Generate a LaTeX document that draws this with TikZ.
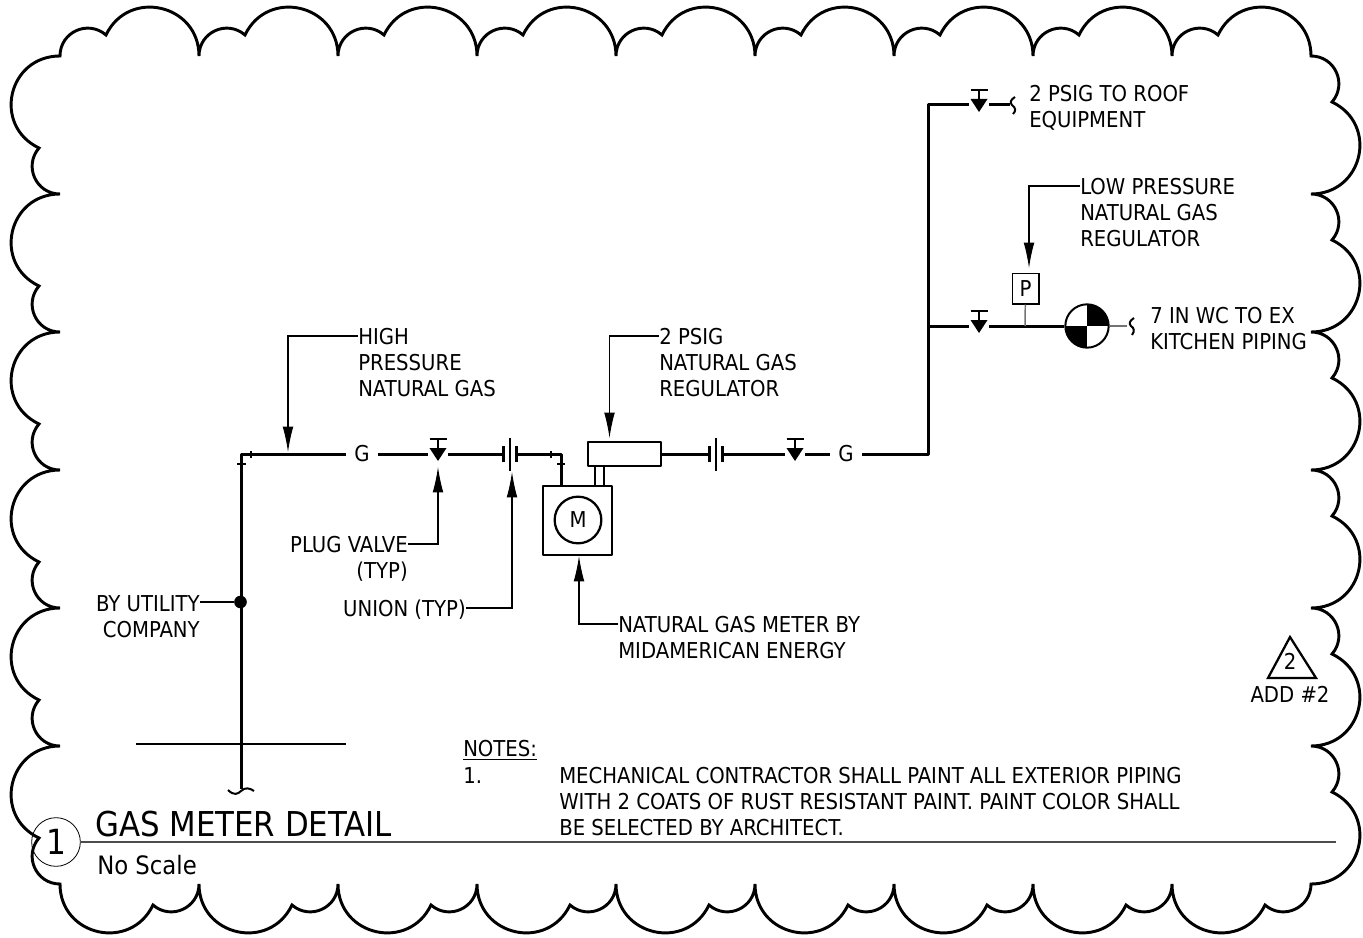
\documentclass[tikz,border=0pt]{standalone}
\usepackage{fontspec}
\setmainfont{DejaVu Sans Condensed}
\usetikzlibrary{arrows.meta}
\begin{document}
\begin{tikzpicture}[x=0.75pt, y=-0.75pt]
	\tikzset{nuage/.style={line width=2.2pt, line join=miter},
		tuyau/.style={line width=2.25pt, line join=round},
		fin/.style={line width=0.8pt},
		gris/.style={line width=1.1pt, black!55},
		fleche/.style={line width=0.8pt, -{Latex[length=19pt, width=8pt]}},
		lettre/.style={inner sep=0pt, font=\fontsize{16.4}{19.5}\selectfont},
		texte/.style={lettre, align=left, anchor=west},
		droite/.style={lettre, align=right, anchor=east},
		vanne/.style={inner sep=0pt, minimum width=15pt, minimum height=15pt},
		raccord/.style={inner sep=0pt, minimum width=9.8pt, minimum height=12pt},
		boite/.style={draw, line width=1.9pt, inner sep=0pt, line join=round}};
	\useasboundingbox (0,0) rectangle (1363,938);

	% cloud
	\draw[nuage] (60,56)
		\foreach \xa in {60,199,...,1172} { .. controls (\xa,32) and (\xa+28,19.4) .. (\xa+46,35) .. controls (\xa+68.5,-12) and (\xa+139,4) .. (\xa+139,56)}
		\foreach \ya in {56,194,...,746} { .. controls (1335,\ya) and (1347.6,\ya+28) .. (1332,\ya+46) .. controls (1379,\ya+68.5) and (1363,\ya+138) .. (1311,\ya+138)}
		\foreach \xa in {1311,1172,...,199} { .. controls (\xa,908) and (\xa-28,920.6) .. (\xa-46,905) .. controls (\xa-68.5,952) and (\xa-139,936) .. (\xa-139,884)}
		\foreach \ya in {884,746,...,194} { .. controls (36,\ya) and (23.4,\ya-28) .. (39,\ya-46) .. controls (-8,\ya-68.5) and (8,\ya-138) .. (60,\ya-138)}
		-- cycle;

	% pipe nodes
	\node[lettre, minimum width=24pt, minimum height=12pt] (ga) at (362,454) {G};
	\node[lettre, minimum width=24pt, minimum height=12pt] (gb) at (846,454) {G};
	\node[vanne] (va) at (438,454) {};
	\node[vanne] (vb) at (795,454) {};
	\node[vanne] (vc) at (979,105) {};
	\node[vanne] (vd) at (979,326) {};
	\node[raccord] (ua) at (510,454) {};
	\node[raccord] (ub) at (716,454) {};
	\node[boite, minimum width=54.7pt, minimum height=18pt] (regul) at (624.5,454) {};
	\node[boite, minimum width=51.7pt, minimum height=51.7pt] (compteur) at (577.5,520.5) {};
	\node[draw, circle, line width=1.7pt, lettre, minimum size=35pt] (m) at (578,520) {M};
	\node[draw, line width=0.8pt, lettre, minimum width=20.2pt, minimum height=23.2pt] (p) at (1025.5,288.5) {P};
	\node[draw, circle, line width=1.5pt, inner sep=0pt, minimum size=32.5pt, path picture={
		\fill (path picture bounding box.center) rectangle (path picture bounding box.north east);
		\fill (path picture bounding box.center) rectangle (path picture bounding box.south west);}] (balance) at (1087,326) {};
	\node[fill, circle, inner sep=0pt, minimum size=9.5pt] (dot) at (240.5,602) {};

	\foreach \n in {va,vb,vc,vd} {
		\fill (\n)++(-8.5,-6) -- ++(17,0) -- ++(-8.5,13) -- cycle;
		\draw[line width=1.9pt] (\n)++(-8.5,-15) -- ++(17,0);
		\draw[line width=1.7pt] (\n)++(0,-15) -- ++(0,10);
	}
	\foreach \n in {ua,ub} {
		\draw[line width=1.9pt] (\n)++(0,-16) -- ++(0,33);
		\draw[line width=1.9pt] (\n)++(-6.5,-8) -- ++(0,16);
		\draw[line width=1.9pt] (\n)++(6.5,-8) -- ++(0,16);
	}

	% coordinates
	\coordinate (ca) at (241,454);
	\coordinate (cb) at (241,789);
	\coordinate (cc) at (561,454);
	\coordinate (cd) at (561,486);
	\coordinate (ce) at (928,454);
	\coordinate (cf) at (928,105);
	\coordinate (cg) at (928,326);
	\coordinate (ch) at (1010,105);
	\coordinate (ci) at (1127,326);
	\coordinate (cj) at (1025,326);
	\coordinate (ra) at (595,466);
	\coordinate (rb) at (595,486);
	\coordinate (rc) at (604,466);
	\coordinate (rd) at (604,486);
	\coordinate (sa) at (136,744);
	\coordinate (sb) at (346,744);
	\coordinate (tb) at (1336,842);

	% pipes
	\draw[tuyau] (ga) -- (ca) -- (cb);
	\draw[tuyau] (ga) -- (va);
	\draw[tuyau] (va) -- (ua);
	\draw[tuyau] (ua) -- (cc) -- (cd);
	\draw[tuyau] (regul) -- (ub);
	\draw[tuyau] (ub) -- (vb);
	\draw[tuyau] (vb) -- (gb);
	\draw[tuyau] (gb) -- (ce) -- (cf) -- (vc);
	\draw[tuyau] (vc) -- (ch);
	\draw[tuyau] (cg) -- (vd);
	\draw[tuyau] (vd) -- (balance);
	\draw[gris] (balance) -- (ci);
	\draw[gris] (p) -- (cj);
	\draw[line width=1.9pt] (ra) -- (rb);
	\draw[line width=1.9pt] (rc) -- (rd);
	\draw[line width=1.6pt] (sa) -- (sb);

	% ticks and breaks
	\draw[line width=1.5pt] (251,451) -- (251,458);
	\draw[line width=1.5pt] (237,464) -- (246,464);
	\draw[line width=1.5pt] (551,451) -- (551,458);
	\draw[line width=1.5pt] (557,464) -- (565,464);
	\draw[line width=1.5pt] (228,790) .. controls (234,796) and (238,794) .. (241,791) .. controls (245,787) and (250,788) .. (254,791);
	\draw[line width=1.5pt] (1015,97) .. controls (1010,100) and (1010,103) .. (1012,105) .. controls (1016,108) and (1016,111) .. (1013,114);
	\draw[line width=1.5pt] (1134,318) .. controls (1129,321) and (1129,324) .. (1131,326) .. controls (1134,328) and (1135,331) .. (1132,335);

	% labels
	\node[texte] (roof) at (1029,108) {2 PSIG TO ROOF\\EQUIPMENT};
	\node[texte] (low) at (1080,213) {LOW PRESSURE\\NATURAL GAS\\REGULATOR};
	\node[texte] (wc) at (1150,329) {7 IN WC TO EX\\KITCHEN PIPING};
	\node[texte] (high) at (358,363) {HIGH\\PRESSURE\\NATURAL GAS};
	\node[texte] (psig) at (659,363) {2 PSIG\\NATURAL GAS\\REGULATOR};
	\node[droite] (plug) at (408,559) {PLUG VALVE\\(TYP)};
	\node[droite] (union) at (466,610) {UNION (TYP)};
	\node[texte] (meter) at (618,638) {NATURAL GAS METER BY\\MIDAMERICAN ENERGY};
	\node[droite] (utility) at (200,617) {BY UTILITY\\COMPANY};
	\node[texte] (notes) at (463,750) {\underline{NOTES:}};
	\node[texte] (one) at (463,776) {1.};
	\node[texte] (para) at (559,802) {MECHANICAL CONTRACTOR SHALL PAINT ALL EXTERIOR PIPING\\WITH 2 COATS OF RUST RESISTANT PAINT. PAINT COLOR SHALL\\BE SELECTED BY ARCHITECT.};
	\node[texte, font=\fontsize{25.7}{30}\selectfont] (title) at (95,824) {GAS METER DETAIL};
	\node[texte, font=\fontsize{19}{23}\selectfont] (scale) at (97,865) {No Scale};
	\node[draw, circle, line width=0.6pt, inner sep=0pt, minimum size=36.5pt, font=\fontsize{26}{30}\selectfont] (numero) at (56,842) {1};
	\node[lettre] (rev) at (1290,661) {2};
	\node[lettre] (add) at (1290,694) {ADD \#2};

	% revision triangle and title rule
	\coordinate (tra) at (1290,637);
	\coordinate (trb) at (1316,678);
	\coordinate (trc) at (1268,678);
	\draw[line width=1.7pt, line join=miter] (tra) -- (trb) -- (trc) -- cycle;
	\draw[line width=1pt, black!70] (numero) -- (tb);

	% leaders
	\coordinate (fa) at (288,452);
	\coordinate (fb) at (438,467);
	\coordinate (fc) at (512,472);
	\coordinate (fd) at (609.5,438);
	\coordinate (fe) at (579,556);
	\coordinate (ff) at (1029,268);
	\coordinate (da) at (358,336);
	\coordinate (db) at (659,336);
	\coordinate (dc) at (1080,186);
	\coordinate (dd) at (408,544);
	\coordinate (dg) at (466,608);
	\coordinate (de) at (618,624);
	\draw[fleche] (da) -| (fa);
	\draw[fleche] (db) -| (fd);
	\draw[fleche] (dc) -| (ff);
	\draw[fleche] (dd) -| (fb);
	\draw[fleche] (dg) -| (fc);
	\draw[fleche] (de) -| (fe);
	\draw[fin] (utility.east |- dot) -- (dot);
\end{tikzpicture}
\end{document}
